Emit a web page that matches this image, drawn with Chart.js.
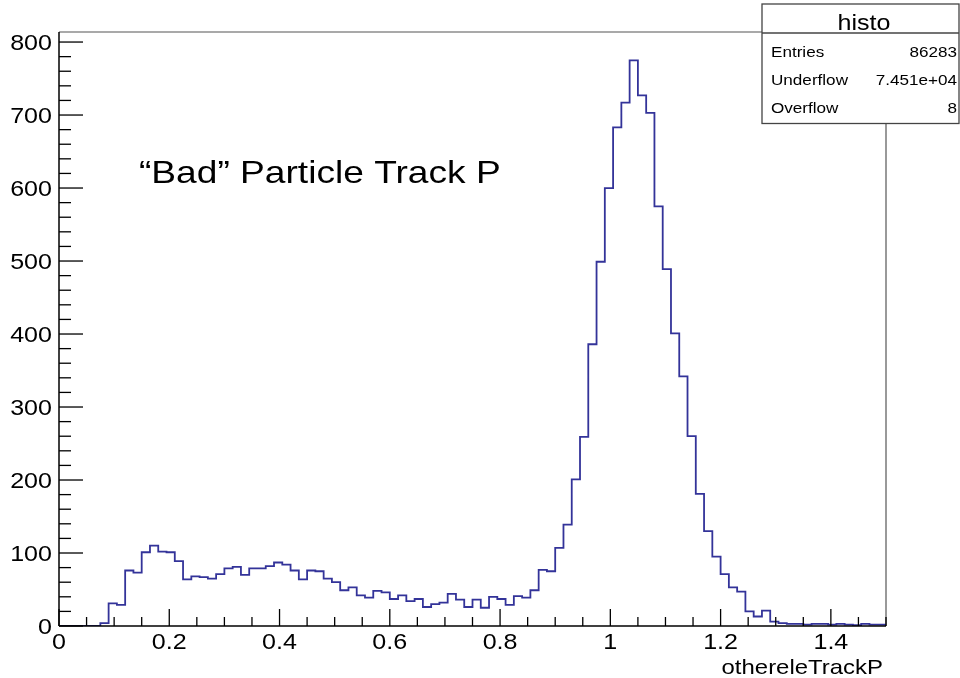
<!DOCTYPE html>
<html>
<head>
<meta charset="utf-8">
<script src="https://cdn.jsdelivr.net/npm/chart.js@4.4.1/dist/chart.umd.min.js"></script>
<style>
  html, body { margin: 0; padding: 0; background: #ffffff; }
  canvas { display: block; }
</style>
</head>
<body>
<canvas id="histo" width="960" height="678"></canvas>
<script>
// othereleTrackP: 100 equal bins between 0 and 1.5
const binCounts = [
    0,   0,   0,   0,   0,   4,  31,  29,  76,  73,
  101, 110, 102, 101,  89,  64,  68,  67,  65,  71,
   79,  81,  70,  79,  79,  82,  87,  84,  76,  64,
   76,  75,  65,  60,  49,  53,  42,  39,  48,  46,
   37,  42,  34,  37,  26,  30,  32,  44,  36,  26,
   36,  25,  40,  37,  29,  41,  39,  49,  77,  75,
  107, 139, 201, 259, 386, 499, 600, 683, 717, 775,
  727, 703, 575, 489, 401, 342, 260, 181, 130,  95,
   71,  53,  47,  20,  13,  21,   6,   4,   3,   3,
    2,   3,   3,   2,   3,   2,   1,   3,   2,   2
];
const xRange = [0, 1.5];
const xTickLabels = ['0', '0.2', '0.4', '0.6', '0.8', '1', '1.2', '1.4'];
const yTickLabels = ['0', '100', '200', '300', '400', '500', '600', '700', '800'];
const statsTitle = 'histo';
const statsNames = ['Entries', 'Underflow', 'Overflow'];
const statsValues = ['86283', '7.451e+04', '8'];
const plotLabel = '\u201CBad\u201D Particle Track P';
const xAxisTitle = 'othereleTrackP';

// step outline: each point opens a bin at its low edge
const binWidth = (xRange[1] - xRange[0]) / binCounts.length;
const outline = binCounts.map((c, i) => ({ x: xRange[0] + i * binWidth, y: c }));
outline.push({ x: xRange[1], y: 0 });
const yMax = Math.max(...binCounts) * 1.05;

const FONT = '"Liberation Sans", Arial, Helvetica, sans-serif';
const TEXT_STRETCH = 1.14;

function wideText(ctx, text, x, y, align, size, stretch) {
  ctx.save();
  ctx.font = size + 'px ' + FONT;
  ctx.fillStyle = '#000';
  ctx.textAlign = align;
  ctx.textBaseline = 'alphabetic';
  ctx.translate(x, y);
  ctx.scale(stretch || TEXT_STRETCH, 1);
  ctx.fillText(text, 0, 0);
  ctx.restore();
}

function line(ctx, x1, y1, x2, y2) {
  ctx.beginPath();
  ctx.moveTo(x1, y1);
  ctx.lineTo(x2, y2);
  ctx.stroke();
}

const rootFrame = {
  id: 'rootFrame',
  beforeDatasetsDraw(chart) {
    const { ctx, chartArea: a } = chart;
    ctx.save();
    ctx.strokeStyle = '#555';
    ctx.lineWidth = 1.2;
    line(ctx, a.left, a.top, a.right, a.top);
    line(ctx, a.right, a.top, a.right, a.bottom);
    ctx.restore();
  },
  afterDatasetsDraw(chart) {
    const { ctx, chartArea: a } = chart;
    const xs = chart.scales.x, ys = chart.scales.y;
    ctx.save();
    ctx.strokeStyle = '#000';
    ctx.lineWidth = 1.5;
    // axis lines
    line(ctx, a.left, a.bottom, a.right, a.bottom);
    line(ctx, a.left, a.top, a.left, a.bottom);
    // y ticks (inside the frame)
    ctx.lineWidth = 1.3;
    for (let v = 0; v <= ys.max; v += 20) {
      const py = ys.getPixelForValue(v);
      const len = v % 100 === 0 ? 24 : 12;
      line(ctx, a.left, py, a.left + len, py);
    }
    // x ticks
    for (let k = 0; k * 0.05 <= xs.max + 1e-9; k++) {
      const px = xs.getPixelForValue(k * 0.05);
      const len = k % 4 === 0 ? 17 : 9;
      line(ctx, px, a.bottom, px, a.bottom - len);
    }
    ctx.restore();

    // tick labels
    yTickLabels.forEach(t => {
      wideText(ctx, t, a.left - 7, ys.getPixelForValue(Number(t)) + 8, 'right', 22);
    });
    xTickLabels.forEach(t => {
      wideText(ctx, t, xs.getPixelForValue(Number(t)), a.bottom + 23, 'center', 22);
    });
    wideText(ctx, xAxisTitle, a.right - 3, 674, 'right', 21);

    // annotation inside the pad
    wideText(ctx, plotLabel, 139, 183, 'left', 32, 1.16);

    // statistics box
    const bx = 762, by = 4, bw = 197, bh = 119.5;
    ctx.save();
    ctx.fillStyle = '#fff';
    ctx.fillRect(bx, by, bw, bh);
    ctx.strokeStyle = '#444';
    ctx.lineWidth = 1.3;
    ctx.strokeRect(bx, by, bw, bh);
    line(ctx, bx, 33, bx + bw, 33);
    ctx.restore();
    wideText(ctx, statsTitle, 864, 29.5, 'center', 22);
    const rowBase = [56.7, 85, 113.3];
    statsNames.forEach((n, i) => {
      wideText(ctx, n, 771, rowBase[i], 'left', 15);
      wideText(ctx, statsValues[i], 957, rowBase[i], 'right', 15);
    });
  }
};

new Chart(document.getElementById('histo'), {
  type: 'line',
  data: {
    datasets: [{
      label: statsTitle,
      data: outline,
      stepped: 'before',
      borderColor: '#333399',
      borderWidth: 1.8,
      pointRadius: 0,
      fill: false
    }]
  },
  options: {
    responsive: false,
    animation: false,
    devicePixelRatio: 1,
    layout: { padding: { left: 0, right: 74, top: 32, bottom: 0 } },
    plugins: { legend: { display: false }, tooltip: { enabled: false }, title: { display: false } },
    scales: {
      x: {
        type: 'linear',
        min: xRange[0],
        max: xRange[1],
        ticks: { display: false, stepSize: 0.2, includeBounds: false },
        grid: { display: false },
        border: { display: false },
        afterFit(s) { s.height = 52; }
      },
      y: {
        type: 'linear',
        min: 0,
        max: yMax,
        ticks: { display: false, stepSize: 100, includeBounds: false },
        grid: { display: false },
        border: { display: false },
        afterFit(s) { s.width = 59; }
      }
    }
  },
  plugins: [rootFrame]
});
</script>
</body>
</html>
